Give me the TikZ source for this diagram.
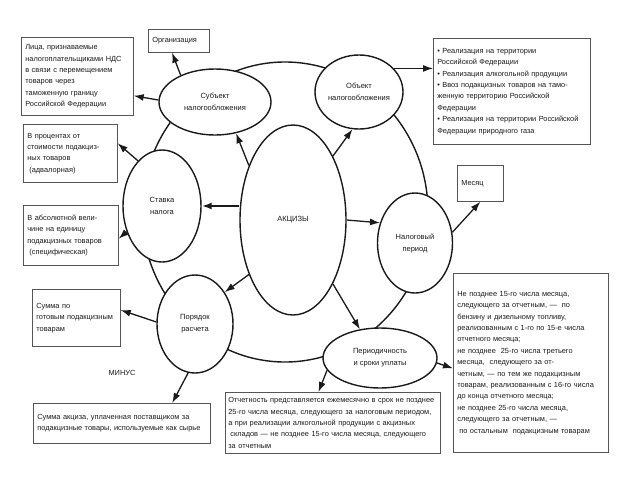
\documentclass[tikz,border=0pt]{standalone}
\usepackage{fontspec}
\setmainfont{Liberation Sans}
\usetikzlibrary{arrows.meta,shapes.geometric}
\definecolor{ink}{HTML}{1A1A1A}
\definecolor{frame}{HTML}{555555}
\tikzset{
  >=Latex,
  every node/.style={font=\fontsize{7.4}{11.4}\selectfont,text=ink},
  oval/.style={ellipse,draw=ink,line width=1.4pt,fill=white,inner sep=0pt,align=center,font=\fontsize{7.5}{12}\selectfont},
  ring/.style={ellipse,draw=ink,line width=1.4pt,inner sep=0pt},
  infobox/.style={draw=frame,line width=0.7pt,anchor=north west,align=left,inner xsep=4pt,inner ysep=2pt},
  arrow/.style={-{Latex[length=10pt,width=7pt]},line width=1.3pt,draw=ink},
  heavy/.style={arrow,line width=2.6pt},
}

\begin{document}
\begin{tikzpicture}[x=1pt,y=-1pt]
\useasboundingbox (0,0) rectangle (626,480);

\node[ring,minimum width=286pt,minimum height=300pt] (orbit) at (285,212) {};

\node[oval,minimum width=112pt,minimum height=66pt] (subj) at (215,102) {Субъект\\налогообложения};
\node[oval,minimum width=88pt,minimum height=74pt] (obj) at (359,92) {Объект\\налогообложения};
\node[oval,minimum width=106pt,minimum height=190pt] (akc) at (293,220) {АКЦИЗЫ};
\node[oval,minimum width=78pt,minimum height=112pt] (stavka) at (162,206) {Ставка\\налога};
\node[oval,minimum width=75pt,minimum height=100pt] (nalper) at (415,243) {Налоговый\\период};
\node[oval,minimum width=76pt,minimum height=98pt] (poryadok) at (195,324) {Порядок\\расчета};
\node[oval,minimum width=114pt,minimum height=60pt] (period) at (380,358) {Периодичность\\и сроки уплаты};

\node[infobox,text width=53pt,minimum height=23pt] (org) at (148,29) {Организация};
\node[infobox,text width=104pt,minimum height=78pt] (lica) at (21,37) {Лица, признаваемые\\налогоплательщиками НДС\\в связи с перемещением\\товаров через\\таможенную границу\\Российской Федерации};
\node[infobox,text width=149pt,minimum height=106pt] (real) at (433,38) {• Реализация на территории\\Российской Федерации\\• Реализация алкогольной продукции\\• Ввоз подакцизных товаров на тамо-\\женную территорию Российской\\Федерации\\• Реализация на территории Российской\\Федерации природного газа};
\node[infobox,text width=86pt,minimum height=58pt] (vproc) at (23,124) {В процентах от\\стоимости подакциз-\\ных товаров\\\hspace*{2pt}(адвалорная)};
\node[infobox,text width=87pt,minimum height=60pt] (vabs) at (23,205) {В абсолютной вели-\\чине на единицу\\подакцизных товаров\\\hspace*{2pt}(специфическая)};
\node[infobox,text width=38pt,minimum height=36pt] (mesyac) at (457,165) {Месяц};
\node[infobox,text width=80pt,minimum height=57pt] (summa) at (32,289) {Сумма по\\готовым подакцизным\\товарам};
\node (minus) at (122,373) {МИНУС};
\node[infobox,text width=169pt,minimum height=40pt] (akciz) at (33,403) {Сумма акциза, уплаченная поставщиком за\\подакцизные товары, используемые как сырье};
\node[infobox,text width=209pt,minimum height=61pt,inner xsep=3pt] (otch) at (225,392) {Отчетность представляется ежемесячно в срок не позднее\\25-го числа месяца, следующего за налоговым периодом,\\а при реализации алкогольной продукции с акцизных\\\hspace*{2pt}складов — не позднее 15-го числа месяца, следующего\\за отчетным};
\node[infobox,text width=147pt,minimum height=179pt] (nepozd) at (453,273) {Не позднее 15-го числа месяца,\\следующего за отчетным, —\ \ по\\бензину и дизельному топливу,\\реализованным с 1-го по 15-е числа\\отчетного месяца;\\не позднее\ \ 25-го числа третьего\\месяца,\ \ следующего за от-\\четным, — по тем же подакцизным\\товарам, реализованным с 16-го числа\\до конца отчетного месяца;\\не позднее 25-го числа месяца,\\следующего за отчетным, —\\\hspace*{2pt}по остальным\ \ подакцизным товарам};

\draw[arrow] (subj.142) -- (org.240);
\draw[arrow] (subj.178) -- (lica.341);
\draw[arrow] (obj.34) -- (obj.34 -| real.west);
\draw[arrow] (akc.129) -- (subj.304);
\draw[arrow] (akc.58) -- (obj.260);
\draw[heavy] (stavka.east -| akc.west) -- (stavka.east);
\draw[arrow] (akc.east) -- (nalper.150);
\draw[arrow] (akc.231) -- (poryadok.47);
\draw[arrow] (akc.302) -- (period.125);
\draw[arrow] (stavka.118) -- (vproc.12);
\draw[arrow] (stavka.216) -- (vabs.356);
\draw[arrow] (nalper.16) -- (mesyac.south);
\draw[arrow] (poryadok.177) -- (summa.10);
\draw[arrow] (poryadok.262) -- (akciz.22);
\draw[arrow] (period.193) -- (otch.115);
\draw[arrow] (period.355) -- (nepozd.184);

\end{tikzpicture}
\end{document}
